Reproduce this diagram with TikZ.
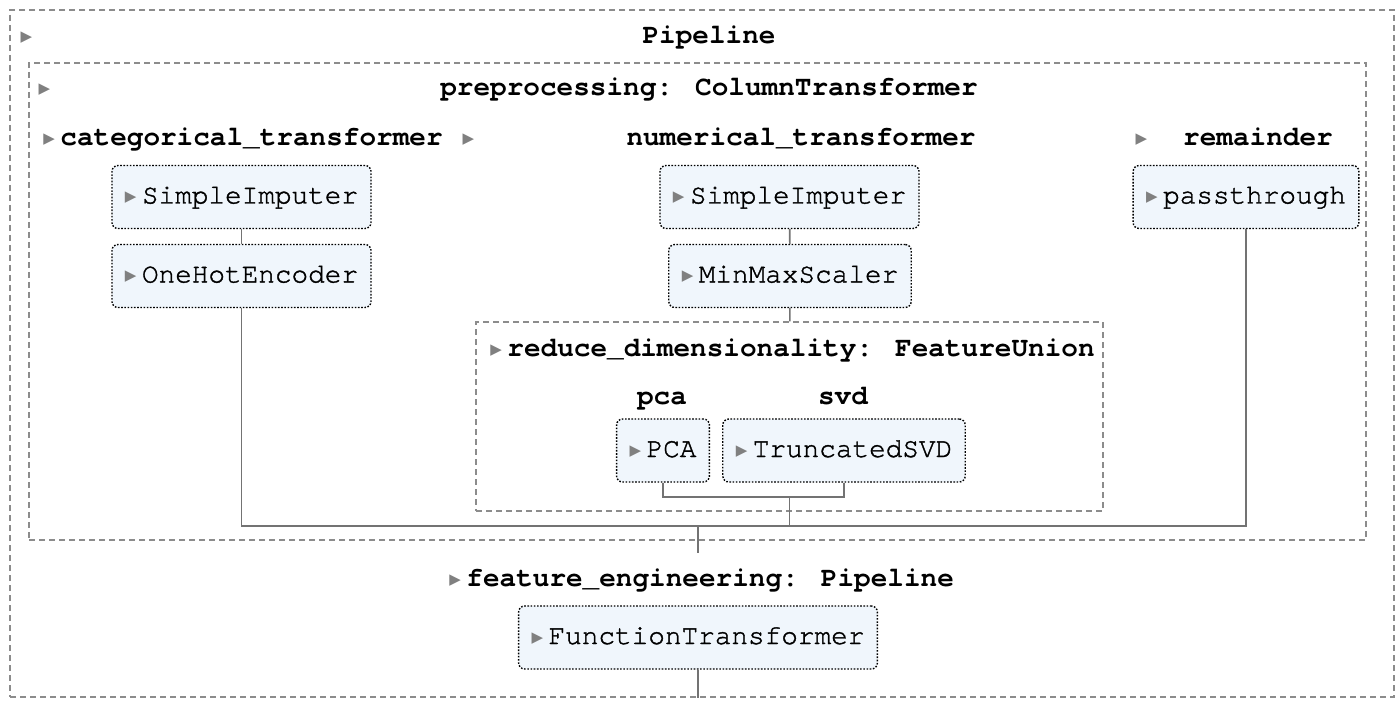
\documentclass[tikz,border=0pt]{standalone}
\usepackage{fontspec}
\setmainfont{TeX Gyre Cursor}
\newfontfamily\estfont{TeX Gyre Cursor}[RawFeature={embolden=1.3}]
\newfontfamily\symfont{DejaVu Sans}
\usetikzlibrary{positioning}

\definecolor{boxfill}{RGB}{240,246,252}
\definecolor{dashgray}{RGB}{140,140,140}
\definecolor{linegray}{RGB}{115,115,115}

\newcommand{\tri}{\makebox[8.5pt][l]{\raisebox{1pt}{\color{gray}\symfont\fontsize{7.5}{7.5}\selectfont ▶}}}

\tikzset{
  every node/.style={font=\fontsize{13.85}{16}\selectfont},
  group/.style={draw=dashgray, line width=0.7pt, dash pattern=on 3pt off 2pt, inner sep=0pt},
  estimator/.style={draw=black, line width=0.7pt, dash pattern=on 0.8pt off 0.8pt,
    rounded corners=3pt, fill=boxfill, minimum height=31.5pt, inner xsep=6.5pt,
    text height=9pt, text depth=2.5pt, font=\estfont\fontsize{13.85}{16}\selectfont},
  label/.style={inner sep=0pt, text height=9pt, text depth=2.5pt,
    font=\bfseries\fontsize{13.85}{16}\selectfont},
  arrowtri/.style={inner sep=0pt, text height=9pt, text depth=2.5pt},
  conn/.style={draw=linegray, line width=0.8pt}
}

\begin{document}
\begin{tikzpicture}[x=0.5pt, y=-0.5pt]
    \useasboundingbox (0,0) rectangle (1400,711);

    % Draw the dashed group boxes
    \node[group, minimum width=692pt, minimum height=343.5pt] (pipe) at (702,353.5) {};
    \node[group, minimum width=668.5pt, minimum height=238.5pt] (prep) at (697.5,301.5) {};
    \node[group, minimum width=313.5pt, minimum height=94.5pt] (fu) at (789.5,416.5) {};

    % Group titles
    \node[arrowtri] (tpipe) at (29,37) {\tri};
    \node[label] (lpipe) at (709,37) {Pipeline};
    \node[arrowtri] (tprep) at (47,89) {\tri};
    \node[label] (lprep) at (709,89) {preprocessing: ColumnTransformer};
    \node[label, anchor=west] (lcat) at (43,139) {\tri categorical\_transformer};
    \node[arrowtri] (tnum) at (471,139) {\tri};
    \node[label] (lnum) at (801,139) {numerical\_transformer};
    \node[arrowtri] (trem) at (1144,139) {\tri};
    \node[label] (lrem) at (1258,139) {remainder};
    \node[label, anchor=west] (lfu) at (490,350) {\tri reduce\_dimensionality: FeatureUnion};
    \node[label] (lpca) at (662,398) {pca};
    \node[label] (lsvd) at (843,398) {svd};
    \node[label, anchor=west] (lfe) at (449,580) {\tri feature\_engineering: Pipeline};

    % Estimator boxes
    \node[estimator] (catimp) at (241.5,197) {\tri SimpleImputer};
    \node[estimator] (ohe) at (241.5,276) {\tri OneHotEncoder};
    \node[estimator] (numimp) at (789.5,197) {\tri SimpleImputer};
    \node[estimator] (mms) at (790,276) {\tri MinMaxScaler};
    \node[estimator] (pass) at (1246,197) {\tri passthrough};
    \node[estimator] (pca) at (663,450.5) {\tri PCA};
    \node[estimator] (svd) at (844,450.5) {\tri TruncatedSVD};
    \node[estimator] (ft) at (698,637.5) {\tri FunctionTransformer};

    % Connectors
    \coordinate (fubus) at (0,497);
    \coordinate (bus) at (0,526);
    \coordinate (febus) at (0,553);
    \draw[conn] (catimp) -- (ohe);
    \draw[conn] (numimp) -- (mms);
    \draw[conn] (mms) -- (fu);
    \draw[conn] (pca.south) |- (svd.south |- fubus) -- (svd.south);
    \draw[conn] (fu.south |- fubus) -- (fu.south |- bus);
    \draw[conn] (ohe.south) |- (pass.south |- bus) -- (pass.south);
    \draw[conn] (ft.north |- bus) -- (ft.north |- febus);
    \draw[conn] (ft.south) -- (ft.south |- pipe.south);
\end{tikzpicture}
\end{document}
